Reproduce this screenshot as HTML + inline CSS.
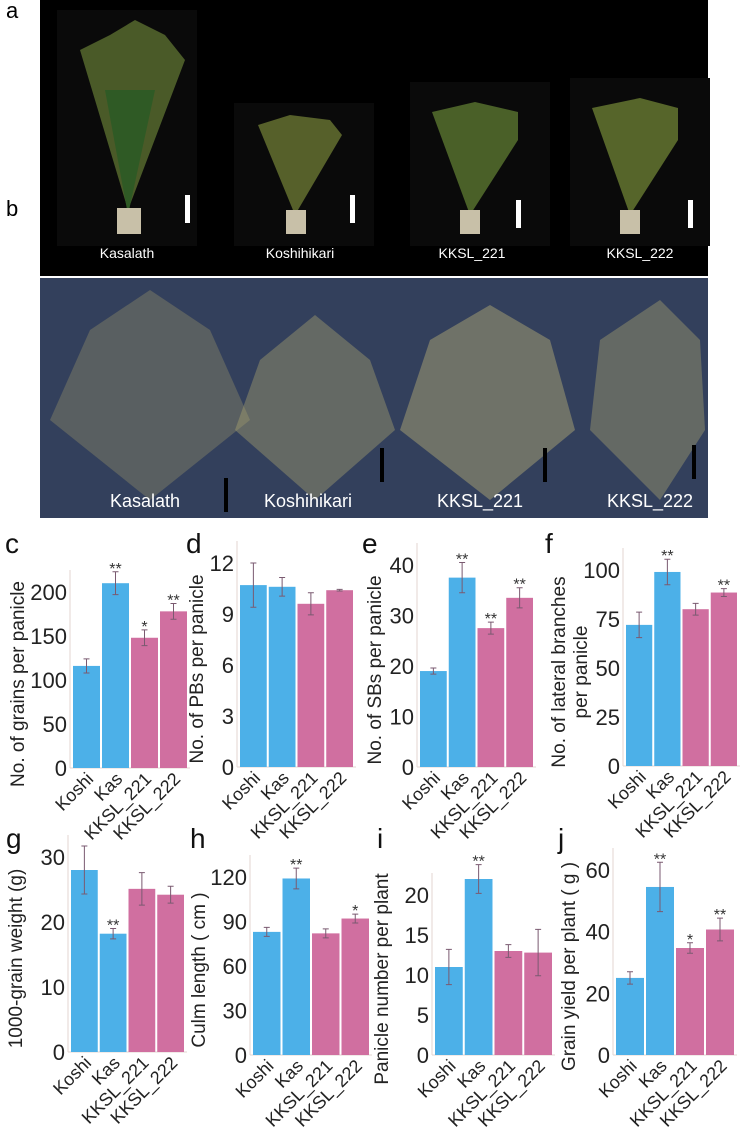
<!DOCTYPE html>
<html><head><meta charset="utf-8"><style>
body{margin:0;background:#fff;width:750px;height:1139px;overflow:hidden}
svg{display:block;font-family:"Liberation Sans",sans-serif}
</style></head><body>
<svg id="fig" width="750" height="1139" viewBox="0 0 750 1139">
<g>
<rect x="40" y="0" width="668" height="276" fill="#000"/>
<rect x="57" y="10" width="140" height="236" fill="#0a0a0a"/>
<rect x="234" y="103" width="140" height="143" fill="#0a0a0a"/>
<rect x="410" y="82" width="140" height="164" fill="#0a0a0a"/>
<rect x="570" y="78" width="140" height="168" fill="#0a0a0a"/>
<path d="M128 210 L80 50 L110 35 L135 20 L165 35 L185 60 Z" fill="#4a5a28"/>
<path d="M128 215 L105 90 L155 90 Z" fill="#2f5a25"/>
<rect x="117" y="208" width="24" height="26" fill="#c8c0a8"/>
<path d="M295 215 L258 125 L290 115 L330 120 L342 135 Z" fill="#56602a"/>
<rect x="286" y="210" width="20" height="24" fill="#c8c0a8"/>
<path d="M470 215 L432 112 L475 102 L518 112 L518 140 Z" fill="#4a6028"/>
<rect x="460" y="210" width="20" height="24" fill="#c8c0a8"/>
<path d="M630 215 L592 108 L640 98 L678 108 L678 140 Z" fill="#56652a"/>
<rect x="620" y="210" width="20" height="24" fill="#c8c0a8"/>
<rect x="185" y="195" width="5" height="28" fill="#fff"/>
<rect x="350" y="195" width="5" height="28" fill="#fff"/>
<rect x="516" y="200" width="5" height="28" fill="#fff"/>
<rect x="688" y="200" width="5" height="28" fill="#fff"/>
<text x="127" y="258" fill="#fff" font-size="14" text-anchor="middle">Kasalath</text>
<text x="300" y="258" fill="#fff" font-size="14" text-anchor="middle">Koshihikari</text>
<text x="472" y="258" fill="#fff" font-size="14" text-anchor="middle">KKSL_221</text>
<text x="640" y="258" fill="#fff" font-size="14" text-anchor="middle">KKSL_222</text>
</g>
<text x="6" y="18" font-size="22">a</text>
<g>
<rect x="40" y="278" width="668" height="240" fill="#33405c"/>
<path d="M150 500 L50 420 L90 330 L150 290 L210 330 L250 420 Z" fill="#a09a6a" opacity="0.35"/>
<path d="M315 500 L235 430 L260 360 L315 315 L370 360 L395 430 Z" fill="#b0a870" opacity="0.4"/>
<path d="M490 500 L400 430 L430 340 L490 305 L550 340 L575 430 Z" fill="#b8b078" opacity="0.45"/>
<path d="M660 500 L590 430 L600 340 L660 300 L700 340 L705 430 Z" fill="#b0a870" opacity="0.4"/>
<rect x="224" y="478" width="4" height="34" fill="#000"/>
<rect x="380" y="448" width="4" height="34" fill="#000"/>
<rect x="543" y="448" width="4" height="34" fill="#000"/>
<rect x="692" y="445" width="4" height="34" fill="#000"/>
<text x="145" y="507" fill="#fff" font-size="18" text-anchor="middle">Kasalath</text>
<text x="308" y="507" fill="#fff" font-size="18" text-anchor="middle">Koshihikari</text>
<text x="480" y="507" fill="#fff" font-size="18" text-anchor="middle">KKSL_221</text>
<text x="650" y="507" fill="#fff" font-size="18" text-anchor="middle">KKSL_222</text>
</g>
<text x="6" y="216" font-size="22">b</text>
</svg>
<script>
const categories = ["Koshi","Kas","KKSL_221","KKSL_222"];
const cValues = [116,210,148,178]; const cErr = [8,13,9,9]; const cStars = ["","**","*","**"]; const cTicks = [0,50,100,150,200];
const dValues = [10.7,10.6,9.6,10.4]; const dErr = [1.3,0.55,0.65,0.05]; const dStars = ["","","",""]; const dTicks = [0,3,6,9,12];
const eValues = [19,37.5,27.5,33.5]; const eErr = [0.6,3,1.2,2]; const eStars = ["","**","**","**"]; const eTicks = [0,10,20,30,40];
const fValues = [72,99,80,88.5]; const fErr = [6.5,6.5,3,2]; const fStars = ["","**","","**"]; const fTicks = [0,25,50,75,100];
const gValues = [28,18.2,25.1,24.2]; const gErr = [3.7,0.8,2.5,1.3]; const gStars = ["","**","",""]; const gTicks = [0,10,20,30];
const hValues = [83,119,82,92]; const hErr = [3,7,3,3]; const hStars = ["","**","","*"]; const hTicks = [0,30,60,90,120];
const iValues = [11,22,13,12.8]; const iErr = [2.2,1.8,0.8,2.9]; const iStars = ["","**","",""]; const iTicks = [0,5,10,15,20];
const jValues = [25,54.5,34.7,40.7]; const jErr = [2,8,1.7,3.7]; const jStars = ["","**","*","**"]; const jTicks = [0,20,40,60];

const svg = document.getElementById('fig');
const NS = "http://www.w3.org/2000/svg";
function mk(tag, attrs, parent){const e=document.createElementNS(NS,tag);for(const k in attrs)e.setAttribute(k,attrs[k]);(parent||svg).appendChild(e);return e;}

function chart(id, letter, lx, ly, ax, x1, y0, yTopVal, yTopPix, vals, errs, stars, ticks, titles, tx, tdx){
  const g = mk('g',{});
  
  
  const ys = v => y0 - (v / yTopVal) * (y0 - yTopPix);
  const bw = (x1 - ax - 2) / 4;
  const xs = i => ax + 2 + i * bw;
  const top = ys(ticks[ticks.length-1]) - 22;
  const al = mk('line',{x1:ax,y1:top,x2:ax,y2:y0,stroke:'#e3d5d0','stroke-width':1},g);
  
  
  const bl = mk('line',{x1:ax,y1:y0,x2:x1+2,y2:y0,stroke:'#e3d5d0','stroke-width':1},g);
  
  
  ticks.forEach(t => {
    const tl = mk('text',{x:ax-3,y:ys(t)+8,'font-size':22,'text-anchor':'end',fill:'#222'},g);
    tl.textContent = t;
    
    
  });
  vals.forEach((v,i) => {
    const b = mk('rect',{x:xs(i)+1,y:ys(v),width:bw-2,height:y0-ys(v),fill:i<2?'#4cb0e8':'#d06fa0'},g);
    
    
    const cx = xs(i)+bw/2;
    const eb = mk('path',{d:`M${cx} ${ys(v+errs[i])}V${ys(v-errs[i])}M${cx-3} ${ys(v+errs[i])}H${cx+3}M${cx-3} ${ys(v-errs[i])}H${cx+3}`,stroke:'#7a5a70','stroke-width':1,fill:'none'},g);
    
    
    if(stars[i]){
      const s = mk('text',{x:cx,y:ys(v+errs[i])+2,'font-size':16,'text-anchor':'middle',fill:'#333'},g);
      s.textContent = stars[i];
      
      
    }
    const xl = mk('text',{x:cx+8,y:y0+12,'font-size':18,'text-anchor':'end',fill:'#222',transform:`rotate(-45 ${cx+8} ${y0+12})`},g);
    xl.textContent = categories[i];
    
    
  });
  const midY = (y0 + yTopPix)/2 + 4;
  titles.forEach((t,k) => {
    const x = tx + k*tdx;
    const yt = mk('text',{x:x,y:midY,'font-size':19,'text-anchor':'middle',fill:'#222',transform:`rotate(-90 ${x} ${midY})`},g);
    yt.textContent = t;
    
    
  });
  const L = mk('text',{x:lx,y:ly,'font-size':28,fill:'#111'},g);
  L.textContent = letter;
  
  
}
chart('c','c',5,553,70,188,768,200,592,cValues,cErr,cStars,cTicks,["No. of grains per panicle"],24,0);
chart('d','d',186,553,237,354,767,12,563,dValues,dErr,dStars,dTicks,["No. of PBs per panicle"],203,0);
chart('e','e',362,553,417,534,767,40,565,eValues,eErr,eStars,eTicks,["No. of SBs per panicle"],381,0);
chart('f','f',545,553,623,738,766,100,570,fValues,fErr,fStars,fTicks,["No. of lateral branches","per panicle"],565,22);
chart('g','g',6,848,68,185,1052,30,857,gValues,gErr,gStars,gTicks,["1000-grain weight (g)"],22,0);
chart('h','h',190,848,250,370,1055,120,877,hValues,hErr,hStars,hTicks,["Culm length ( cm )"],205,0);
chart('i','i',377,848,432,553,1055,20,895,iValues,iErr,iStars,iTicks,["Panicle number per plant"],388,0);
chart('j','j',558,848,613,735,1055,60,870,jValues,jErr,jStars,jTicks,["Grain yield per plant ( g )"],575,0);
</script>
</body></html>
